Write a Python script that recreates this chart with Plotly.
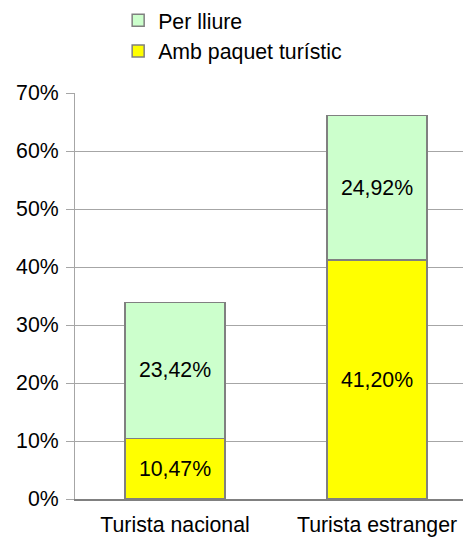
import plotly.graph_objects as go

# Categories and series (percent)
categories = ['Turista nacional', 'Turista estranger']
amb_paquet = [10.47, 41.20]
per_lliure = [23.42, 24.92]
y_ticks = [0, 10, 20, 30, 40, 50, 60, 70]

FONT_SIZE = 21.3


def pct_label(v):
    return f'{v:.2f}'.replace('.', ',') + '%'


fig = go.Figure()
fig.add_trace(go.Bar(x=categories, y=amb_paquet, name='Amb paquet turístic',
                     marker=dict(color='#ffff00', line=dict(color='#808080', width=1.5)),
                     text=[pct_label(v) for v in amb_paquet], textposition='inside',
                     insidetextanchor='middle', textangle=0,
                     textfont=dict(color='black', size=FONT_SIZE)))
fig.add_trace(go.Bar(x=categories, y=per_lliure, name='Per lliure',
                     marker=dict(color='#ccffcc', line=dict(color='#808080', width=1.5)),
                     text=[pct_label(v) for v in per_lliure], textposition='inside',
                     insidetextanchor='middle', textangle=0,
                     textfont=dict(color='black', size=FONT_SIZE)))

# page body has an 8px margin, so the figure is a bit smaller than the window
fig.update_layout(
    width=463, height=532,
    barmode='stack', bargap=0.505,
    margin=dict(l=67, r=0, t=85, b=41, autoexpand=False),
    paper_bgcolor='white', plot_bgcolor='white',
    font=dict(family='Liberation Sans, Arial, sans-serif', size=FONT_SIZE, color='black'),
    legend=dict(x=0.109, y=1.229, xref='paper', yref='paper',
                xanchor='left', yanchor='top',
                traceorder='reversed', font=dict(size=FONT_SIZE),
                itemwidth=30, tracegroupgap=0),
    xaxis=dict(showline=True, linecolor='#808080', linewidth=1.5,
               ticks='', range=[-0.495, 1.465], automargin=False,
               ticklabelstandoff=6),
    yaxis=dict(range=[0, 70], tickvals=y_ticks,
               ticktext=[f'{v}%' for v in y_ticks],
               showgrid=True, gridcolor='#a6a6a6', gridwidth=1,
               showline=True, linecolor='#a6a6a6', linewidth=1,
               ticks='outside', ticklen=8, tickcolor='#a6a6a6',
               ticklabelstandoff=3, zeroline=False, automargin=False),
)

fig.write_html("out.html")
